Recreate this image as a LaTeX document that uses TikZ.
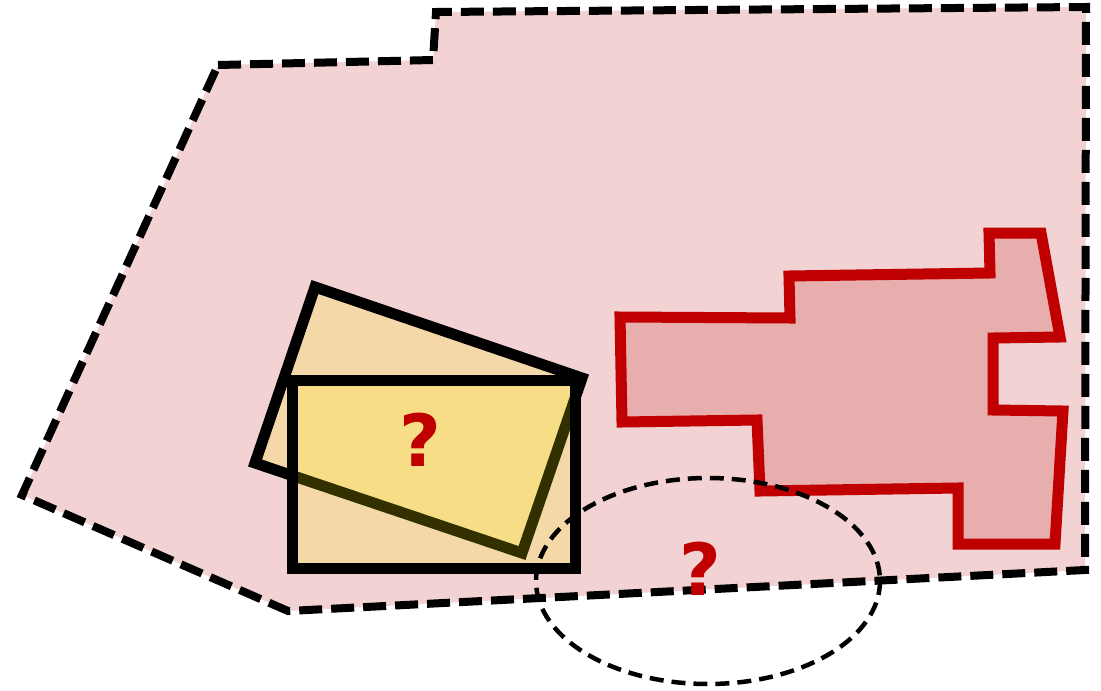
\documentclass[tikz,border=0pt]{standalone}
\usepackage{fontspec}
\newfontfamily\qfont{DejaVu Sans}
\usepackage{xcolor}
\definecolor{areapink}{HTML}{F2D2D2}
\definecolor{zonered}{HTML}{C00000}
\definecolor{zonefill}{HTML}{E8ADAD}
\begin{document}
\begin{tikzpicture}[x=1pt,y=-1pt,
    region/.style={draw=black,fill=areapink,line width=8pt,dash pattern=on 23pt off 9pt},
    boxframe/.style={draw=black,line width=11pt,fill=yellow,fill opacity=0.2,draw opacity=1},
    zone/.style={draw=zonered,fill=zonefill,line width=11pt},
    reach/.style={draw=black,line width=4.5pt,dash pattern=on 14pt off 8pt},
    unknown/.style={text=zonered,font=\qfont\bfseries\fontsize{72}{72}\selectfont,inner sep=0pt}]
    \useasboundingbox (0,0) rectangle (1101,691);
    % outer area
    \draw[region] (218,65) -- (433,60) -- (436,12) -- (1086,7) -- (1085,570)
        -- (288,611) -- (22,495) -- cycle;
    % red zone
    \draw[zone] (620,317) -- (790,318) -- (789,276) -- (990,273) -- (989,233)
        -- (1041,233) -- (1060,337) -- (993,338) -- (993,410) -- (1063,411)
        -- (1055,544) -- (958,544) -- (958,488) -- (760,491) -- (757,420)
        -- (622,422) -- cycle;
    % boxes
    \draw[boxframe] (315,287) -- (582,378) -- (522,553) -- (255,463) -- cycle;
    \draw[boxframe] (292,380) rectangle (575,568);
    % ellipse
    \draw[reach] (708,581) ellipse [x radius=172, y radius=103];
    \node[unknown] (q1) at (420,440) {?};
    \node[unknown] (q2) at (700,569) {?};
\end{tikzpicture}
\end{document}
